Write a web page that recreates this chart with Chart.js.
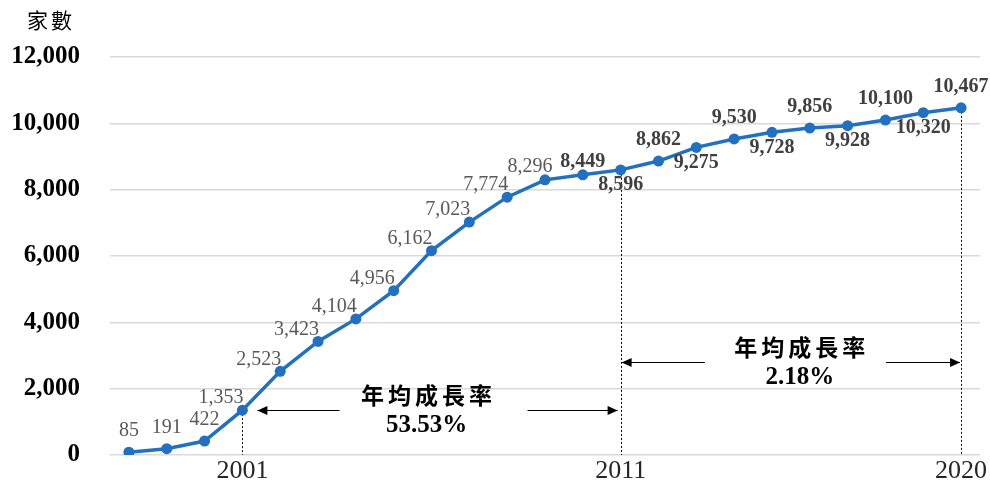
<!DOCTYPE html>
<html>
<head>
<meta charset="utf-8">
<script src="https://cdn.jsdelivr.net/npm/chart.js@4.4.1/dist/chart.umd.min.js"></script>
<style>
  body { margin: 0; background: #fff; }
  canvas { display: block; }
</style>
</head>
<body>
<canvas id="chart" width="990" height="484"></canvas>
<script>
const years = ['1998', '1999', '2000', '2001', '2002', '2003', '2004', '2005', '2006', '2007', '2008',
  '2009', '2010', '2011', '2012', '2013', '2014', '2015', '2016', '2017', '2018', '2019', '2020'];
const households = [85, 191, 422, 1353, 2523, 3423, 4104, 4956, 6162, 7023, 7774,
  8296, 8449, 8596, 8862, 9275, 9530, 9728, 9856, 9928, 10100, 10320, 10467];
const shownYears = ['2001', '2011', '2020'];
const unitLabel = '家數';
const growthTitle = '年均成長率';
const growthRates = ['53.53%', '2.18%'];
const growthSpans = [['2001', '2011'], ['2011', '2020']];
const arrowLevels = [1353, 2800];

// where each value label sits: T = above, B = below, L = above-left, U = just above
const labelSide = ['T', 'T', 'T', 'L', 'L', 'L', 'L', 'L', 'L', 'L', 'L', 'U',
  'U', 'B', 'T', 'B', 'T', 'B', 'T', 'B', 'T', 'B', 'T'];
const firstBoldLabel = 12;

const serif = '"Liberation Serif", "Times New Roman", serif';
const cjk = '"Noto Sans CJK TC", "Noto Sans CJK SC", sans-serif';
const fmt = v => v.toLocaleString('en-US');
const lineBlue = '#2271C0';

function drawArrow(ctx, x1, x2, yy) {
  ctx.beginPath();
  ctx.moveTo(x1, yy);
  ctx.lineTo(x2, yy);
  ctx.stroke();
  const d = Math.sign(x2 - x1);
  ctx.beginPath();
  ctx.moveTo(x2, yy);
  ctx.lineTo(x2 - d * 10, yy - 4.5);
  ctx.lineTo(x2 - d * 10, yy + 4.5);
  ctx.closePath();
  ctx.fill();
}

const extras = {
  id: 'extras',
  beforeDatasetsDraw(chart) {
    const ctx = chart.ctx;
    const yScale = chart.scales.y;
    const pts = chart.getDatasetMeta(0).data;
    ctx.save();
    ctx.strokeStyle = '#000';
    ctx.lineWidth = 1;
    ctx.setLineDash([2, 2]);
    shownYears.forEach(yr => {
      const p = pts[years.indexOf(yr)];
      const px = Math.round(p.x) + 0.5;
      ctx.beginPath();
      ctx.moveTo(px, p.y);
      ctx.lineTo(px, yScale.bottom);
      ctx.stroke();
    });
    ctx.restore();
  },
  afterDatasetsDraw(chart) {
    const ctx = chart.ctx;
    const xScale = chart.scales.x, yScale = chart.scales.y;
    const pts = chart.getDatasetMeta(0).data;
    ctx.save();

    // value labels
    ctx.textBaseline = 'middle';
    pts.forEach((p, i) => {
      const bold = i >= firstBoldLabel;
      ctx.font = (bold ? 'bold ' : '') + '20px ' + serif;
      ctx.fillStyle = bold ? '#404040' : '#595959';
      const txt = fmt(households[i]);
      const side = labelSide[i];
      if (side === 'L') {
        ctx.textAlign = 'right';
        ctx.fillText(txt, p.x + 1, p.y - 12);
      } else if (side === 'U') {
        ctx.textAlign = 'center';
        ctx.fillText(txt, p.x - (bold ? 0 : 15), p.y - 13);
      } else if (side === 'B') {
        ctx.textAlign = 'center';
        ctx.fillText(txt, p.x, p.y + 15);
      } else {
        ctx.textAlign = 'center';
        ctx.fillText(txt, p.x, p.y - 21);
      }
    });

    // unit label
    ctx.fillStyle = '#000';
    ctx.textAlign = 'center';
    ctx.font = '21px ' + cjk;
    ctx.letterSpacing = '3px';
    ctx.fillText(unitLabel, 51, 20);
    ctx.letterSpacing = '0px';

    // growth-rate arrows
    const insets = [[15, 3], [1, 1]];
    const textShift = [-5, 9];
    const gaps = [[87, 101], [95, 86]];
    ctx.strokeStyle = '#000';
    ctx.lineWidth = 1;
    growthSpans.forEach((span, k) => {
      const xa = xScale.getPixelForValue(years.indexOf(span[0]));
      const xb = xScale.getPixelForValue(years.indexOf(span[1]));
      const yy = Math.round(yScale.getPixelForValue(arrowLevels[k])) + 0.5;
      const cx = (xa + xb) / 2 + textShift[k];
      drawArrow(ctx, cx - gaps[k][0], xa + insets[k][0], yy);
      drawArrow(ctx, cx + gaps[k][1], xb - insets[k][1], yy);
      ctx.fillStyle = '#000';
      ctx.textAlign = 'center';
      ctx.font = 'bold 23px ' + cjk;
      ctx.letterSpacing = '4px';
      ctx.fillText(growthTitle, cx + 2, yy - 15);
      ctx.letterSpacing = '0px';
      ctx.font = 'bold 25px ' + serif;
      ctx.fillText(growthRates[k], cx, yy + 15);
    });
    ctx.restore();
  }
};

const ctx = document.getElementById('chart').getContext('2d');
new Chart(ctx, {
  type: 'line',
  data: {
    labels: years,
    datasets: [{
      data: households,
      borderColor: lineBlue,
      backgroundColor: lineBlue,
      borderWidth: 3.5,
      pointRadius: 5.5,
      pointHoverRadius: 5.5,
      pointBorderWidth: 0,
      tension: 0,
      fill: false
    }]
  },
  options: {
    responsive: false,
    animation: false,
    layout: { padding: { top: 57, right: 10, left: 0, bottom: 0 } },
    plugins: {
      legend: { display: false },
      tooltip: { enabled: false }
    },
    scales: {
      x: {
        type: 'category',
        offset: true,
        grid: { display: false, drawTicks: false },
        border: { display: false },
        ticks: {
          autoSkip: false,
          maxRotation: 0,
          padding: 1,
          color: '#262626',
          font: { family: serif, size: 26 },
          callback: function (value) {
            const lbl = this.getLabelForValue(value);
            return shownYears.includes(lbl) ? lbl : '';
          }
        },
        afterFit: scale => { scale.height = 29; }
      },
      y: {
        min: 0,
        max: 12000,
        grid: { color: '#d9d9d9', lineWidth: 1.5, drawTicks: false },
        border: { display: false },
        ticks: {
          stepSize: 2000,
          padding: 30,
          color: '#000',
          font: { family: serif, size: 25, weight: 'bold' },
          callback: v => fmt(v)
        },
        afterFit: scale => {
          scale.width = 110;
          // tick padding would otherwise be added above/below the axis too
          scale.paddingTop = 15;
          scale.paddingBottom = 15;
        }
      }
    }
  },
  plugins: [extras]
});
</script>
</body>
</html>
